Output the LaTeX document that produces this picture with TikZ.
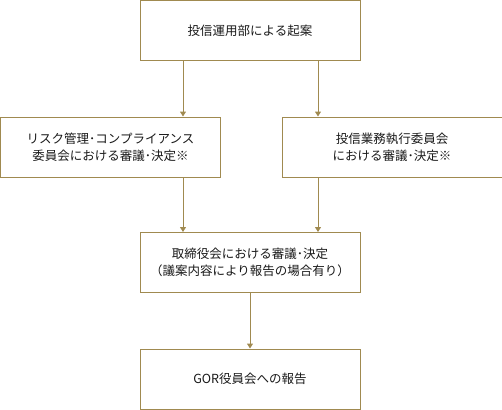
\documentclass[tikz,border=0pt]{standalone}
\usepackage{fontspec}
\setmainfont{Noto Sans CJK JP}
\usepackage{tikz}
\usetikzlibrary{arrows.meta,positioning}
\definecolor{flowgold}{RGB}{160,138,80}
\tikzset{stage/.style={rectangle,draw=flowgold,line width=1pt,minimum width=220pt,minimum height=60pt,inner sep=0pt,align=center,text=black!90,font=\fontsize{12.5pt}{17pt}\selectfont}}
\tikzset{flow/.style={draw=flowgold,line width=1pt,-{Triangle[length=5pt,width=6pt]}}}

\begin{document}
\begin{tikzpicture}
  \useasboundingbox (0,0) rectangle (502pt,-409pt);
  \coordinate (lx) at (183pt,0);
  \coordinate (rx) at (318pt,0);
  \node[stage] (draft) at (250pt,-30.5pt) {投信運用部による起案};
  \node[stage,below=55.5pt of draft,xshift=-139.5pt] (risk) {リスク管理･コンプライアンス\\委員会における審議･決定※};
  \node[stage,below=55.5pt of draft,xshift=142pt] (exec) {投信業務執行委員会\\における審議･決定※};
  \node[stage,below=171pt of draft] (board) {取締役会における審議･決定\\（議案内容により報告の場合有り）};
  \node[stage,below=55.5pt of board] (gor) {GOR役員会への報告};
  \draw[flow] (draft.south -| lx) -- (risk.north -| lx);
  \draw[flow] (draft.south -| rx) -- (exec.north -| rx);
  \draw[flow] (risk.south -| lx) -- (board.north -| lx);
  \draw[flow] (exec.south -| rx) -- (board.north -| rx);
  \draw[flow] (board) -- (gor);
\end{tikzpicture}
\end{document}
